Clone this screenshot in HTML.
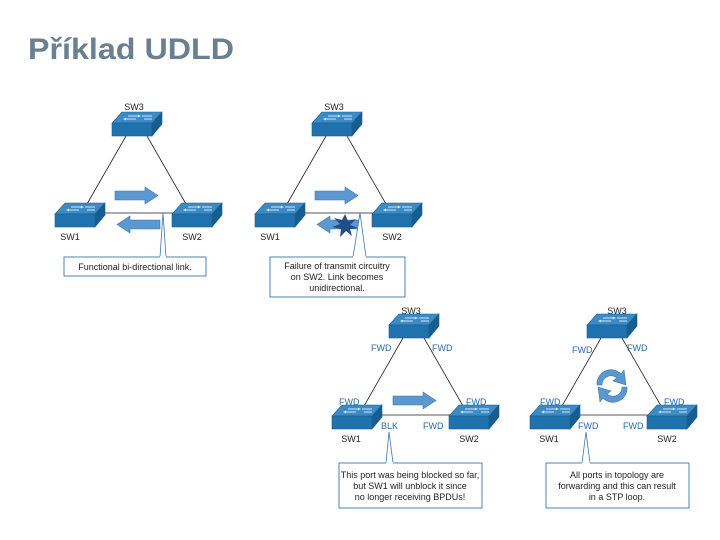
<!DOCTYPE html>
<html><head><meta charset="utf-8"><style>
html,body{margin:0;padding:0;background:#fff;}
svg{display:block;font-family:"Liberation Sans",Arial,sans-serif;}
</style></head><body>
<svg width="720" height="540" viewBox="0 0 720 540" xmlns="http://www.w3.org/2000/svg">
<defs>
<g id="sw">
<polygon points="10,0 50,0 40,11 0,11" fill="#3b8cc6" stroke="#1c5f8e" stroke-width="0.6"/>
<rect x="0" y="11" width="40" height="13" fill="#1f72ad" stroke="#1c5f8e" stroke-width="0.6"/>
<polygon points="40,11 50,0 50,12 40,24" fill="#175d8f" stroke="#1c5f8e" stroke-width="0.6"/>
<path d="M16,4 h12 M26,3 l2,1 -2,1 M24,7 h-12 M14,6 l-2,1 2,1 M30,4 h10 M32,7 h8" stroke="#cfe4f3" stroke-width="0.9" fill="none"/>
</g>
<g id="rarrow"><polygon points="0,4 30,4 30,0 43,8.5 30,17 30,13 0,13" fill="#5b98cf" stroke="#3a78b0" stroke-width="0.6"/></g>
<g id="larrow"><polygon points="43,4 13,4 13,0 0,8.5 13,17 13,13 43,13" fill="#5b98cf" stroke="#3a78b0" stroke-width="0.6"/></g>
</defs>
<text x="28" y="59" font-size="30" font-weight="bold" fill="#6b7f92" textLength="206" lengthAdjust="spacingAndGlyphs">Příklad UDLD</text>

<!-- Diagram 1 -->
<g font-size="9" fill="#222">
<line x1="126" y1="136" x2="87" y2="204" stroke="#222" stroke-width="0.8"/>
<line x1="147" y1="136" x2="186" y2="204" stroke="#222" stroke-width="0.8"/>
<line x1="95" y1="213" x2="173" y2="213" stroke="#555" stroke-width="1"/>
<use href="#sw" x="112" y="112"/>
<use href="#sw" x="55" y="203"/>
<use href="#sw" x="172" y="203"/>
<text x="134" y="110" text-anchor="middle">SW3</text>
<text x="70" y="240" text-anchor="middle">SW1</text>
<text x="192" y="240" text-anchor="middle">SW2</text>
<use href="#rarrow" x="115" y="187"/>
<use href="#larrow" x="117" y="216"/>
<path d="M160,257 L163,213 L166,257" fill="#fff" stroke="#3a78b0" stroke-width="0.8"/>
<rect x="64" y="257" width="142" height="19" fill="#fff" stroke="#3a78b0" stroke-width="0.9"/>
<line x1="160" y1="257" x2="166" y2="257" stroke="#fff" stroke-width="1.5"/>
<text x="135" y="270" text-anchor="middle">Functional bi-directional link.</text>
</g>

<!-- Diagram 2 -->
<g font-size="9" fill="#222" transform="translate(200,0)">
<line x1="126" y1="136" x2="87" y2="204" stroke="#222" stroke-width="0.8"/>
<line x1="147" y1="136" x2="186" y2="204" stroke="#222" stroke-width="0.8"/>
<line x1="95" y1="213" x2="173" y2="213" stroke="#555" stroke-width="1"/>
<use href="#sw" x="112" y="112"/>
<use href="#sw" x="55" y="203"/>
<use href="#sw" x="172" y="203"/>
<text x="134" y="110" text-anchor="middle">SW3</text>
<text x="70" y="240" text-anchor="middle">SW1</text>
<text x="192" y="240" text-anchor="middle">SW2</text>
<use href="#rarrow" x="115" y="187"/>
<use href="#larrow" x="117" y="216"/>
<polygon points="145,214 148,221 156,219 150,225 158,228 150,229 152,236 146,231 140,237 141,229 132,227 140,224 134,218 142,220" fill="#1f4f86"/>
<path d="M153,257 L160,213 L166,257" fill="#fff" stroke="#3a78b0" stroke-width="0.8"/>
<rect x="70" y="257" width="135" height="40" fill="#fff" stroke="#3a78b0" stroke-width="0.9"/>
<line x1="153" y1="257" x2="166" y2="257" stroke="#fff" stroke-width="1.5"/>
<text x="137" y="269" text-anchor="middle">Failure of transmit circuitry</text>
<text x="137" y="280" text-anchor="middle">on SW2. Link becomes</text>
<text x="137" y="291" text-anchor="middle">unidirectional.</text>
</g>

<!-- Diagram 3 -->
<g font-size="9" fill="#222" transform="translate(277,202)">
<line x1="126" y1="136" x2="87" y2="204" stroke="#222" stroke-width="0.8"/>
<line x1="147" y1="136" x2="186" y2="204" stroke="#222" stroke-width="0.8"/>
<line x1="95" y1="213" x2="173" y2="213" stroke="#222" stroke-width="0.8"/>
<use href="#sw" x="112" y="112"/>
<use href="#sw" x="55" y="203"/>
<use href="#sw" x="172" y="203"/>
<text x="134" y="112" text-anchor="middle">SW3</text>
<text x="74" y="240" text-anchor="middle">SW1</text>
<text x="192" y="240" text-anchor="middle">SW2</text>
<g fill="#2a6aa5">
<text x="94" y="149">FWD</text><text x="155" y="149">FWD</text>
<text x="62" y="203">FWD</text><text x="189" y="203">FWD</text>
<text x="104" y="227">BLK</text><text x="146" y="227">FWD</text>
</g>
<use href="#rarrow" x="116" y="190"/>
<path d="M109,261 L112,230 L116,261" fill="#fff" stroke="#3a78b0" stroke-width="0.8"/>
<rect x="62" y="261" width="143" height="45" fill="#fff" stroke="#3a78b0" stroke-width="0.9"/>
<line x1="109" y1="261" x2="116" y2="261" stroke="#fff" stroke-width="1.5"/>
<text x="133" y="276" text-anchor="middle">This port was being blocked so far,</text>
<text x="133" y="287" text-anchor="middle">but SW1 will unblock it since</text>
<text x="133" y="298" text-anchor="middle">no longer receiving BPDUs!</text>
</g>

<!-- Diagram 4 -->
<g font-size="9" fill="#222" transform="translate(475,202)">
<line x1="126" y1="136" x2="87" y2="204" stroke="#222" stroke-width="0.8"/>
<line x1="147" y1="136" x2="186" y2="204" stroke="#222" stroke-width="0.8"/>
<line x1="95" y1="213" x2="173" y2="213" stroke="#222" stroke-width="0.8"/>
<use href="#sw" x="112" y="112"/>
<use href="#sw" x="55" y="203"/>
<use href="#sw" x="172" y="203"/>
<text x="142" y="112" text-anchor="middle">SW3</text>
<text x="74" y="240" text-anchor="middle">SW1</text>
<text x="192" y="240" text-anchor="middle">SW2</text>
<g fill="#2a6aa5">
<text x="97" y="151">FWD</text><text x="152" y="149">FWD</text>
<text x="65" y="203">FWD</text><text x="189" y="203">FWD</text>
<text x="103" y="227">FWD</text><text x="148" y="227">FWD</text>
</g>
<g fill="#5b98cf" stroke="#3a78b0" stroke-width="0.6">
<path d="M122,183 A14,14 0 0 1 146,172 L149,168 L151,183 L138,179 L142,176 A9,9 0 0 0 127,183 Z"/>
<path d="M152,185 A14,14 0 0 1 128,196 L125,200 L123,185 L136,189 L132,192 A9,9 0 0 0 147,185 Z"/>
</g>
<path d="M107,261 L111,230 L115,261" fill="#fff" stroke="#3a78b0" stroke-width="0.8"/>
<rect x="71" y="261" width="143" height="45" fill="#fff" stroke="#3a78b0" stroke-width="0.9"/>
<line x1="107" y1="261" x2="115" y2="261" stroke="#fff" stroke-width="1.5"/>
<text x="142" y="276" text-anchor="middle">All ports in topology are</text>
<text x="142" y="287" text-anchor="middle">forwarding and this can result</text>
<text x="142" y="298" text-anchor="middle">in a STP loop.</text>
</g>
</svg>
</body></html>
